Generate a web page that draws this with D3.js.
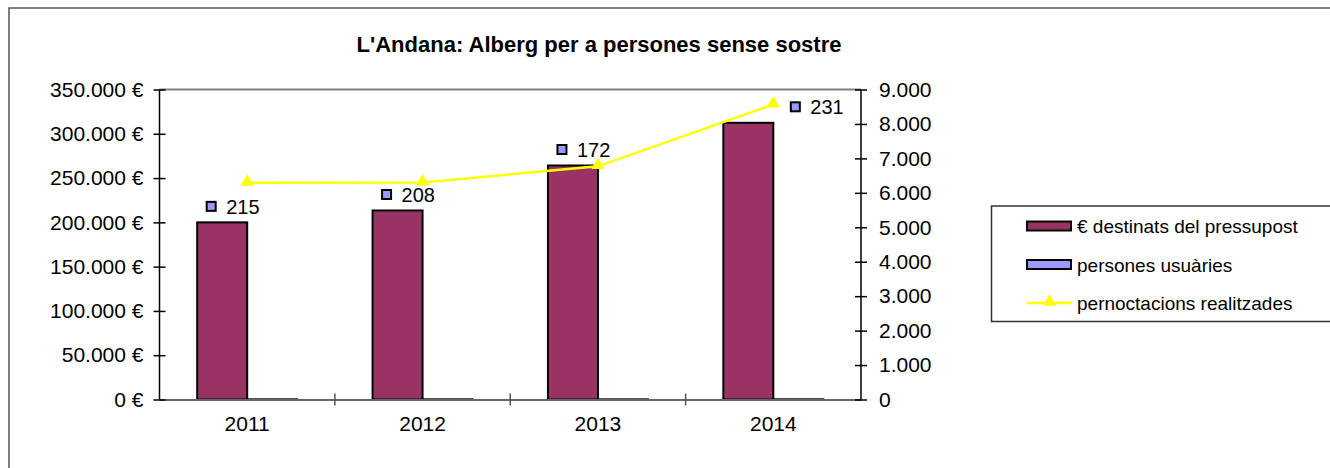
<!DOCTYPE html>
<html>
<head>
<meta charset="utf-8">
<script src="https://cdn.jsdelivr.net/npm/d3@7"></script>
<style>
	html, body { margin: 0; padding: 0; overflow: hidden; background: #fff; }
	svg { display: block; font-family: "Liberation Sans", Arial, sans-serif; }
</style>
</head>
<body>
<svg id="chart" width="1330" height="468"></svg>
<script>
// chart values
const years = ['2011', '2012', '2013', '2014'];
const pressupost = [200000, 213400, 264200, 312400];   // € destinats del pressupost
const usuaries = [215, 208, 172, 231];                  // persones usuàries
const pernoctacions = [6290, 6300, 6770, 8565];         // pernoctacions realitzades
const leftTicks = [0, 50000, 100000, 150000, 200000, 250000, 300000, 350000];
const rightTicks = [0, 1000, 2000, 3000, 4000, 5000, 6000, 7000, 8000, 9000];
const seriesNames = ['€ destinats del pressupost', 'persones usuàries', 'pernoctacions realitzades'];

const BAR_COLOR = '#993366';
const USER_COLOR = '#9999ff';
const LINE_COLOR = '#ffff00';
const AXIS_FONT = '21px';

const svg = d3.select('#chart');

const plot = { left: 159.5, right: 861, top: 89.5, bottom: 399.5 };

// outer chart frame: only its top and left edges fall inside the picture
svg.append('path')
	.attr('d', 'M9,468V8H1330')
	.attr('fill', 'none')
	.attr('stroke', '#555')
	.attr('stroke-width', 1.5);

svg.append('text')
	.attr('x', 599).attr('y', 52)
	.attr('text-anchor', 'middle')
	.style('font-size', '22px')
	.style('font-weight', 'bold')
	.text("L'Andana: Alberg per a persones sense sostre");

const x = d3.scaleBand()
	.domain(years)
	.range([plot.left, plot.right]);

const xInner = d3.scaleBand()
	.domain([0, 1])
	.range([0, 100]);

const yLeft = d3.scaleLinear()
	.domain([0, 350000])
	.range([plot.bottom, plot.top]);

const yRight = d3.scaleLinear()
	.domain([0, 9000])
	.range([plot.bottom, plot.top]);

const locale = d3.formatLocale({ decimal: ',', thousands: '.', grouping: [3], currency: ['', ''] });
const fmt = locale.format(',.0f');

// plot area top border
svg.append('line')
	.attr('x1', plot.left).attr('x2', plot.right)
	.attr('y1', plot.top).attr('y2', plot.top)
	.attr('stroke', '#808080')
	.attr('stroke-width', 2);

/* -------------------- BARS ---------------------- */
const groups = svg.append('g').selectAll('g')
	.data(years)
	.join('g')
	.attr('transform', d => `translate(${x(d) + x.bandwidth() / 2 - 50},0)`);

groups.append('rect')
	.attr('x', xInner(0))
	.attr('y', (d, i) => yLeft(pressupost[i]))
	.attr('width', xInner.bandwidth())
	.attr('height', (d, i) => yLeft(0) - yLeft(pressupost[i]))
	.attr('fill', BAR_COLOR)
	.attr('stroke', '#000')
	.attr('stroke-width', 2);

groups.append('rect')
	.attr('x', xInner(1))
	.attr('y', (d, i) => yLeft(usuaries[i]))
	.attr('width', xInner.bandwidth())
	.attr('height', (d, i) => yLeft(0) - yLeft(usuaries[i]))
	.attr('fill', USER_COLOR)
	.attr('stroke', '#000')
	.attr('stroke-width', 2);

/* -------------------- AXES ---------------------- */
const xAxis = svg.append('g')
	.attr('transform', `translate(0,${plot.bottom})`)
	.call(d3.axisBottom(x).tickSize(0).tickPadding(16.5));
xAxis.select('.domain').attr('stroke', '#666').attr('stroke-width', 2);
xAxis.selectAll('text').style('font-size', AXIS_FONT).attr('fill', '#000');
// category separators
xAxis.selectAll('.sep')
	.data(years.slice(1))
	.join('line')
	.attr('x1', d => x(d)).attr('x2', d => x(d))
	.attr('y1', -6).attr('y2', 6)
	.attr('stroke', '#555')
	.attr('stroke-width', 1.5);

const leftAxis = svg.append('g')
	.attr('transform', `translate(${plot.left},0)`)
	.call(d3.axisLeft(yLeft).tickValues(leftTicks).tickSize(6).tickPadding(10)
		.tickFormat(d => fmt(d) + ' €'));
leftAxis.select('.domain').attr('d', `M0,${plot.top}V${plot.bottom}`).attr('stroke', '#000').attr('stroke-width', 1.5);
leftAxis.selectAll('.tick line').attr('x1', 6).attr('x2', -6).attr('stroke', '#000').attr('stroke-width', 1.5);
leftAxis.selectAll('text').style('font-size', AXIS_FONT).attr('fill', '#000');

const rightAxis = svg.append('g')
	.attr('transform', `translate(${plot.right},0)`)
	.call(d3.axisRight(yRight).tickValues(rightTicks).tickSize(6).tickPadding(12)
		.tickFormat(d => fmt(d)));
rightAxis.select('.domain').attr('d', `M0,${plot.top}V${plot.bottom}`).attr('stroke', '#000').attr('stroke-width', 1.5);
rightAxis.selectAll('.tick line').attr('x1', -6).attr('x2', 6).attr('stroke', '#000').attr('stroke-width', 1.5);
rightAxis.selectAll('text').style('font-size', AXIS_FONT).attr('fill', '#000');

/* -------------------- LINE ---------------------- */
const cx = d => x(d) + x.bandwidth() / 2;
const line = d3.line()
	.x((d, i) => cx(years[i]))
	.y(d => yRight(d));

svg.append('path')
	.datum(pernoctacions)
	.attr('d', line)
	.attr('fill', 'none')
	.attr('stroke', LINE_COLOR)
	.attr('stroke-width', 2.5);

const tri = d3.symbol().type(d3.symbolTriangle).size(75);
svg.append('g').selectAll('path')
	.data(pernoctacions)
	.join('path')
	.attr('d', tri)
	.attr('transform', (d, i) => `translate(${cx(years[i])},${yRight(d) - 1})`)
	.attr('fill', LINE_COLOR);

/* -------------------- DATA LABELS ---------------------- */
const labels = svg.append('g').selectAll('g')
	.data(usuaries)
	.join('g')
	.attr('transform', (d, i) => {
		const last = i === years.length - 1;
		const lx = cx(years[i]) + (last ? 22 : -36);
		const ly = yLeft(pressupost[i]) - 16;
		return `translate(${lx},${ly})`;
	});

labels.append('rect')
	.attr('x', -4.5).attr('y', -4.5)
	.attr('width', 9).attr('height', 9)
	.attr('fill', USER_COLOR)
	.attr('stroke', '#000')
	.attr('stroke-width', 2);

labels.append('text')
	.attr('x', 15).attr('y', 7.5)
	.style('font-size', '20px')
	.text(d => d);

/* -------------------- LEGEND ---------------------- */
const legend = svg.append('g');
legend.append('path')
	.attr('d', 'M1330,206H991.5V321.5H1330')
	.attr('fill', '#fff')
	.attr('stroke', '#333')
	.attr('stroke-width', 1.5);

const legendRows = legend.selectAll('g.row')
	.data(seriesNames)
	.join('g')
	.attr('class', 'row')
	.attr('transform', (d, i) => `translate(1027,${226 + i * 38.5})`);

legendRows.filter((d, i) => i < 2)
	.append('rect')
	.attr('x', 0).attr('y', -4.5)
	.attr('width', 44).attr('height', 9)
	.attr('fill', (d, i) => i === 0 ? BAR_COLOR : USER_COLOR)
	.attr('stroke', '#000')
	.attr('stroke-width', 2);

const lineRow = legendRows.filter((d, i) => i === 2);
lineRow.append('line')
	.attr('x1', 0).attr('x2', 45)
	.attr('stroke', LINE_COLOR)
	.attr('stroke-width', 2.5);
lineRow.append('path')
	.attr('d', tri)
	.attr('transform', 'translate(22.5,-1)')
	.attr('fill', LINE_COLOR);

legendRows.append('text')
	.attr('x', 50).attr('y', 7)
	.style('font-size', '19px')
	.text(d => d);
</script>
</body>
</html>
